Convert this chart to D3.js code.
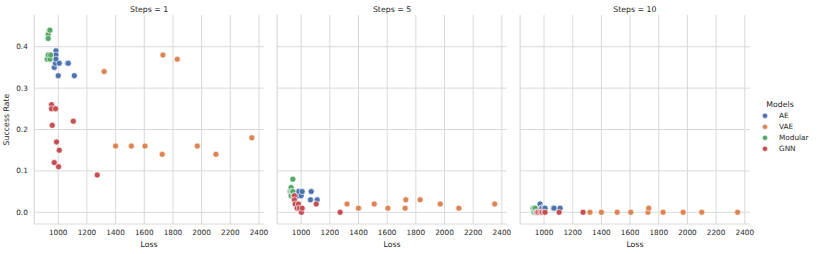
<!DOCTYPE html>
<html>
<head>
<meta charset="utf-8">
<script src="https://cdn.jsdelivr.net/npm/d3@7"></script>
<style>
  body { margin: 0; background: #fff; }
  svg { font-family: "DejaVu Sans", sans-serif; }
</style>
</head>
<body>
<svg id="chart" width="817" height="254"></svg>
<script>
'use strict';

// --- data ---
var models = ['AE', 'VAE', 'Modular', 'GNN'];
var colours = ['#4c72b0', '#dd8452', '#55a868', '#c44e52'];
var steps = [1, 5, 10];

var aeLoss = [972, 980, 984, 984, 984, 1000, 1007, 1065, 1070, 1112];
var aeRate = [
  [0.35, 0.36, 0.39, 0.38, 0.37, 0.33, 0.36, 0.36, 0.36, 0.33],
  [0.04, 0.05, 0.05, 0.04, 0.05, 0.04, 0.05, 0.03, 0.05, 0.03],
  [0.02, 0.01, 0.01, 0.01, 0.01, 0.01, 0.01, 0.01, 0.01, 0.01]
];
var vaeLoss = [1320, 1400, 1510, 1605, 1725, 1730, 1830, 1970, 2100, 2350];
var vaeRate = [
  [0.34, 0.16, 0.16, 0.16, 0.14, 0.38, 0.37, 0.16, 0.14, 0.18],
  [0.02, 0.01, 0.02, 0.01, 0.01, 0.03, 0.03, 0.02, 0.01, 0.02],
  [0.00, 0.00, 0.00, 0.00, 0.00, 0.01, 0.00, 0.00, 0.00, 0.00]
];
var modLoss = [923, 930, 930, 930, 938, 942, 942, 947];
var modRate = [
  [0.37, 0.43, 0.42, 0.38, 0.44, 0.44, 0.37, 0.38],
  [0.05, 0.06, 0.05, 0.04, 0.05, 0.08, 0.05, 0.04],
  [0.01, 0.00, 0.01, 0.00, 0.01, 0.00, 0.00, 0.00]
];
var gnnLoss = [953, 953, 958, 972, 981, 988, 1002, 1007, 1105, 1272];
var gnnRate = [
  [0.26, 0.25, 0.21, 0.12, 0.25, 0.17, 0.11, 0.15, 0.22, 0.09],
  [0.04, 0.03, 0.02, 0.01, 0.02, 0.01, 0.00, 0.01, 0.02, 0.00],
  [0.00, 0.00, 0.00, 0.00, 0.00, 0.00, 0.00, 0.00, 0.00, 0.00]
];
var xTicks = [1000, 1200, 1400, 1600, 1800, 2000, 2200, 2400];
var yTicks = [0.0, 0.1, 0.2, 0.3, 0.4];

var losses = [aeLoss, vaeLoss, modLoss, gnnLoss];
var rates = [aeRate, vaeRate, modRate, gnnRate];

// --- layout ---
var plotTop = 15, plotBottom = 224, pw = 229.7, gap = 13.2, left0 = 34.3;
var grid = '#d9d9d9', ink = '#262626';
var svg = d3.select('#chart');

var x = d3.scaleLinear().domain([833, 2435]).range([0, pw]);
var y = d3.scaleLinear().domain([-0.0283, 0.4766]).range([plotBottom, plotTop]);

steps.forEach(function(st, si) {
  var x0 = left0 + si * (pw + gap);
  var g = svg.append('g').attr('transform', 'translate(' + x0 + ',0)');

  g.selectAll('line.vg').data(xTicks).enter().append('line')
    .attr('x1', function(d) { return x(d); }).attr('x2', function(d) { return x(d); })
    .attr('y1', plotTop).attr('y2', plotBottom)
    .attr('stroke', grid).attr('stroke-width', 1);
  g.selectAll('line.hg').data(yTicks).enter().append('line')
    .attr('x1', 0).attr('x2', pw)
    .attr('y1', function(d) { return y(d); }).attr('y2', function(d) { return y(d); })
    .attr('stroke', grid).attr('stroke-width', 1);

  // spines (left + bottom only)
  g.append('line').attr('x1', 0).attr('x2', 0).attr('y1', plotTop).attr('y2', plotBottom)
    .attr('stroke', grid).attr('stroke-width', 1.2);
  g.append('line').attr('x1', 0).attr('x2', pw).attr('y1', plotBottom).attr('y2', plotBottom)
    .attr('stroke', grid).attr('stroke-width', 1.2);

  g.selectAll('text.xt').data(xTicks).enter().append('text')
    .attr('x', function(d) { return x(d); }).attr('y', 235)
    .attr('text-anchor', 'middle').attr('font-size', 7.3).attr('fill', ink)
    .text(function(d) { return d; });
  g.append('text').attr('x', pw / 2).attr('y', 246.5)
    .attr('text-anchor', 'middle').attr('font-size', 7.8).attr('fill', ink)
    .text('Loss');
  g.append('text').attr('x', pw / 2).attr('y', 11.5)
    .attr('text-anchor', 'middle').attr('font-size', 7.8).attr('fill', ink)
    .text('Steps = ' + st);

  if (si === 0) {
    g.selectAll('text.yt').data(yTicks).enter().append('text')
      .attr('x', -6.5).attr('y', function(d) { return y(d) + 2.6; })
      .attr('text-anchor', 'end').attr('font-size', 7.3).attr('fill', ink)
      .text(function(d) { return d.toFixed(1); });
    g.append('text')
      .attr('transform', 'translate(' + (-25.5) + ',' + ((plotTop + plotBottom) / 2) + ') rotate(-90)')
      .attr('text-anchor', 'middle').attr('font-size', 7.8).attr('fill', ink)
      .text('Success Rate');
  }

  models.forEach(function(m, mi) {
    var pts = losses[mi].map(function(l, i) { return [l, rates[mi][si][i]]; });
    g.selectAll(null).data(pts).enter().append('circle')
      .attr('cx', function(d) { return x(d[0]); })
      .attr('cy', function(d) { return y(d[1]); })
      .attr('r', 3)
      .attr('fill', colours[mi])
      .attr('stroke', '#fff').attr('stroke-width', 0.6);
  });
});

// --- legend ---
var leg = svg.append('g');
leg.append('text').attr('x', 780).attr('y', 107)
  .attr('text-anchor', 'middle').attr('font-size', 7.8).attr('fill', ink)
  .text('Models');
var items = leg.selectAll('g.item').data(models).enter().append('g')
  .attr('transform', function(d, i) { return 'translate(765,' + (115.8 + i * 11) + ')'; });
items.append('circle').attr('r', 2.6)
  .attr('fill', function(d, i) { return colours[i]; })
  .attr('stroke', '#fff').attr('stroke-width', 0.5);
items.append('text').attr('x', 14).attr('y', 2.6)
  .attr('font-size', 7.3).attr('fill', ink)
  .text(function(d) { return d; });
</script>
</body>
</html>
